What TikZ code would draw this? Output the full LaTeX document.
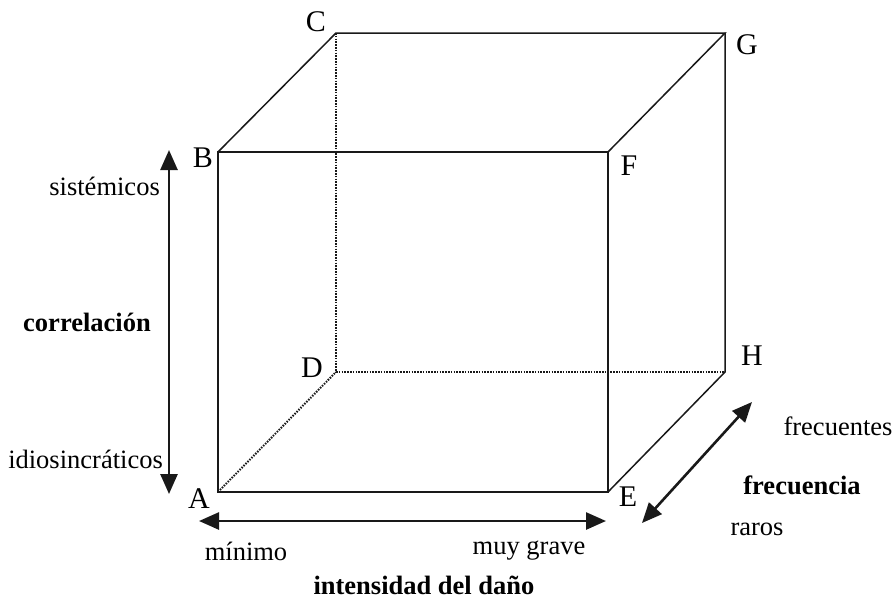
\documentclass[tikz,border=0pt]{standalone}
\usepackage{fontspec}
\setmainfont{Liberation Serif}
\usetikzlibrary{arrows.meta}
\begin{document}
\begin{tikzpicture}[x=1pt,y=-1pt,
  edge/.style={line width=1.5pt, black!90, line cap=round, line join=miter},
  hidden/.style={line width=2pt, black!90, dash pattern=on 1.5pt off 1.3pt},
  axis/.style={line width=2.6pt, black!90, {Triangle[length=20pt,width=17pt]}-{Triangle[length=20pt,width=17pt]}},
  corner/.style={font=\fontsize{30}{32}\selectfont, inner sep=0pt},
  lab/.style={font=\fontsize{26.5}{28}\selectfont, inner sep=0pt},
  blab/.style={font=\fontsize{26.5}{28}\selectfont\bfseries, inner sep=0pt}]
\useasboundingbox (0,0) rectangle (895,598);
% cube corners
\coordinate (A) at (218,492);
\coordinate (B) at (218,152);
\coordinate (F) at (608,152);
\coordinate (E) at (608,492);
\coordinate (C) at (336,33);
\coordinate (G) at (725,33);
\coordinate (H) at (725,372);
\coordinate (D) at (336,372);
% hidden edges
\draw[hidden] (C) -- (D);
\draw[hidden] (D) -- (H);
\draw[hidden] (A) -- (D);
% visible edges
\draw[edge] (A) -- (B) -- (F) -- (E) -- cycle;
\draw[edge] (B) -- (C) -- (G) -- (F);
\draw[edge] (G) -- (H) -- (E);
% corner labels
\node[corner] (lC) at (316,22) {C};
\node[corner] (lG) at (747,45) {G};
\node[corner] (lB) at (203,158) {B};
\node[corner] (lF) at (629,166) {F};
\node[corner] (lD) at (312,368) {D};
\node[corner] (lH) at (752,356) {H};
\node[corner] (lA) at (199,499) {A};
\node[corner] (lE) at (628,497) {E};
% axes
\coordinate (v1) at (169,150);
\coordinate (v2) at (169,494);
\draw[axis] (v2) -- (v1);
\coordinate (h1) at (199,521);
\coordinate (h2) at (606,521);
\draw[axis] (h1) -- (h2);
\coordinate (d1) at (642,523);
\coordinate (d2) at (752,402);
\draw[axis] (d1) -- (d2);
% axis labels
\node[lab, anchor=east] (sis) at (160,186) {sistémicos};
\node[lab, anchor=east] (idi) at (163,459) {idiosincráticos};
\node[blab] (cor) at (87,322) {correlación};
\node[lab] (min) at (246,551) {mínimo};
\node[lab] (muy) at (529,551) {muy grave};
\node[blab, anchor=base] (int) at (424,594) {intensidad del daño};
\node[lab] (fre) at (838,426) {frecuentes};
\node[blab] (frc) at (802,485) {frecuencia};
\node[lab] (rar) at (757,529) {raros};
\end{tikzpicture}
\end{document}
